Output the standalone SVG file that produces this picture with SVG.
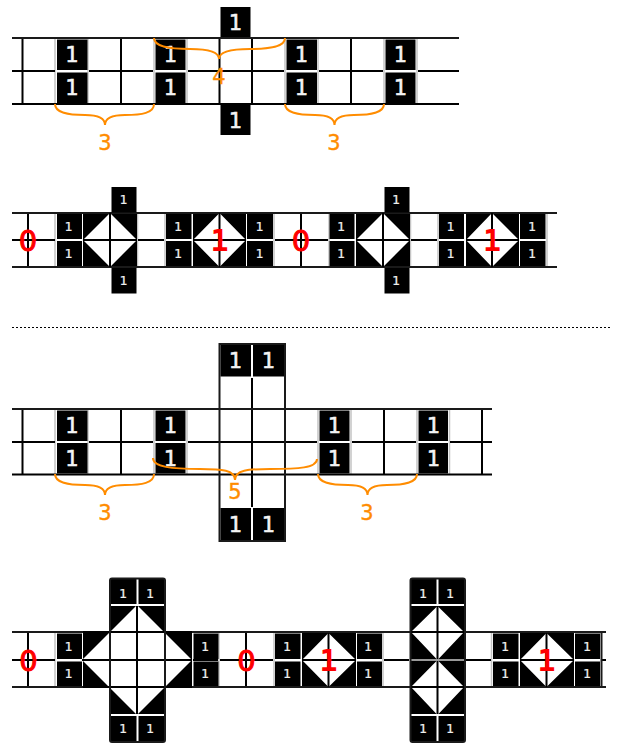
<svg xmlns="http://www.w3.org/2000/svg" width="619" height="744" viewBox="0 0 619 744">
<style>
.bg{fill:#fff}
.k{fill:#000}
.w{fill:#fff}
.l{stroke:#000;stroke-width:2;fill:none}
.t{stroke:#1a1a1a;stroke-width:2;fill:none}
.g{stroke:#c4c4c4;stroke-width:1.500;fill:none}
.wl{stroke:#fff;stroke-width:2;fill:none}
.b{stroke:#ff8c00;stroke-width:2;fill:none}
.a,.c,.r{font-family:"DejaVu Sans Mono",monospace;text-anchor:middle}
.a{font-size:22px;fill:#f4f4f4;stroke:#f4f4f4;stroke-width:.5px}
.c{font-size:13px;fill:#eee;stroke:#eee;stroke-width:.2px}
.r{font-size:30px;font-weight:bold;fill:#f00}
.z{font-family:"DejaVu Sans",sans-serif;font-size:29px;fill:#f00;stroke:#f00;stroke-width:1px;text-anchor:middle}
.o{font-family:"DejaVu Sans",sans-serif;font-size:21px;fill:#ff8c00;stroke:#ff8c00;stroke-width:.4px;text-anchor:middle}
</style>
<rect class="bg" width="619" height="744"/>

<g id="row1-grid">
<path class="g" d="M55 38V104M88 38V104M154 38V104M187 38V104M285 38V104M318 38V104M384 38V104M417 38V104"/>
<path class="l" d="M22.500 38V104M121 38V104M219.500 38V104M252 38V104M351 38V104M12 71H55M89 71H153M188 71H284M319 71H383M418 71H459M12 104H459"/>
<path class="t" d="M12 38H459"/>
</g>
<g id="row1-tiles">
<rect class="k" x="57" y="39.500" width="30.500" height="30.500"/><text class="a" x="71.500" y="62">1</text>
<rect class="k" x="57" y="72.500" width="30.500" height="30.500"/><text class="a" x="71.500" y="95">1</text>
<rect class="k" x="155.500" y="39.500" width="30" height="30.500"/><text class="a" x="170" y="62">1</text>
<rect class="k" x="155.500" y="72.500" width="30" height="30.500"/><text class="a" x="170" y="95">1</text>
<rect class="k" x="286.500" y="39.500" width="30.500" height="30.500"/><text class="a" x="301" y="62">1</text>
<rect class="k" x="286.500" y="72.500" width="30.500" height="30.500"/><text class="a" x="301" y="95">1</text>
<rect class="k" x="385.500" y="39.500" width="30" height="30.500"/><text class="a" x="400" y="62">1</text>
<rect class="k" x="385.500" y="72.500" width="30" height="30.500"/><text class="a" x="400" y="95">1</text>
<rect class="k" x="220.500" y="7" width="30" height="30"/><text class="a" x="235" y="30">1</text>
<rect class="k" x="220.500" y="105" width="30" height="30"/><text class="a" x="235" y="128">1</text>
</g>

<g id="row2-grid">
<path class="g" d="M55 213V267M165 213V267M329 213V267M438 213V267M547 213V267M137.500 213V267M274 213V267M410.500 213V267"/>
<path class="l" d="M28 213V267M301 213V267M12 240H55M138 240H164M275 240H328M411 240H437"/>
<path class="t" d="M12 213H557M12 267H557"/>
</g>
<g id="row2-tiles">
<path class="k" d="M83 214H137V266H83Z M193 214H246V266H193Z M356 214H410V266H356Z M466 214H519V266H466Z"/>
<path class="w" d="M83 240L110 213L137 240L110 267Z M193 240L219.500 213L246 240L219.500 267Z M356 240L383 213L410 240L383 267Z M466 240L492 213L519 240L492 267Z"/>
<path class="l" d="M110 213V267M83 240H137M219.500 213V267M193 240H246M383 213V267M356 240H410M492 213V267M466 240H519"/>
<rect class="k" x="57" y="214" width="25" height="25"/><text class="c" x="68.500" y="231">1</text>
<rect class="k" x="57" y="241" width="25" height="25"/><text class="c" x="68.500" y="258">1</text>
<rect class="k" x="166" y="214" width="25.500" height="25"/><text class="c" x="178" y="231">1</text>
<rect class="k" x="166" y="241" width="25.500" height="25"/><text class="c" x="178" y="258">1</text>
<rect class="k" x="247" y="214" width="26" height="25"/><text class="c" x="259.500" y="231">1</text>
<rect class="k" x="247" y="241" width="26" height="25"/><text class="c" x="259.500" y="258">1</text>
<rect class="k" x="329.500" y="214" width="25" height="25"/><text class="c" x="341" y="231">1</text>
<rect class="k" x="329.500" y="241" width="25" height="25"/><text class="c" x="341" y="258">1</text>
<rect class="k" x="439" y="214" width="25" height="25"/><text class="c" x="450.500" y="231">1</text>
<rect class="k" x="439" y="241" width="25" height="25"/><text class="c" x="450.500" y="258">1</text>
<rect class="k" x="520" y="214" width="25.500" height="25"/><text class="c" x="532" y="231">1</text>
<rect class="k" x="520" y="241" width="25.500" height="25"/><text class="c" x="532" y="258">1</text>
<rect class="k" x="111.500" y="187" width="25" height="25.500"/><text class="c" x="123.500" y="204">1</text>
<rect class="k" x="111.500" y="268" width="25" height="25.500"/><text class="c" x="123.500" y="285">1</text>
<rect class="k" x="384.500" y="187" width="25" height="25.500"/><text class="c" x="396" y="204">1</text>
<rect class="k" x="384.500" y="268" width="25" height="25.500"/><text class="c" x="396" y="285">1</text>
</g>
<g id="row2-values">
<text class="z" x="28" y="251">0</text>
<text class="r" x="219.500" y="251">1</text>
<text class="z" x="301" y="251">0</text>
<text class="r" x="492" y="251">1</text>
</g>

<path id="separator" d="M12 327.500H612" stroke="#000" stroke-width="1" stroke-dasharray="2 2" fill="none"/>

<g id="row3-grid">
<path class="g" d="M55 409V474M88 409V474M154 409V474M187 409V474M318 409V474M351 409V474M417 409V474M449.500 409V474"/>
<path class="l" d="M22.500 409V474M121 409V474M384 409V474M482 409V474M12 442H55M89 442H153M188 442H317M352 442H416M450 442H492M12 474.500H492M252 378V507"/>
<path class="t" d="M12 409H492"/>
<rect class="t" x="219.500" y="344" width="65.500" height="197"/>
</g>
<g id="row3-tiles">
<rect class="k" x="57" y="410.500" width="30.500" height="30.500"/><text class="a" x="71.500" y="433">1</text>
<rect class="k" x="57" y="443" width="30.500" height="30.500"/><text class="a" x="71.500" y="466">1</text>
<rect class="k" x="155.500" y="410.500" width="30" height="30.500"/><text class="a" x="170" y="433">1</text>
<rect class="k" x="155.500" y="443" width="30" height="30.500"/><text class="a" x="170" y="466">1</text>
<rect class="k" x="319.500" y="410.500" width="30" height="30.500"/><text class="a" x="334" y="433">1</text>
<rect class="k" x="319.500" y="443" width="30" height="30.500"/><text class="a" x="334" y="466">1</text>
<rect class="k" x="418.500" y="410.500" width="29.500" height="30.500"/><text class="a" x="433" y="433">1</text>
<rect class="k" x="418.500" y="443" width="29.500" height="30.500"/><text class="a" x="433" y="466">1</text>
<rect class="k" x="220.500" y="345" width="30.500" height="31.500"/><text class="a" x="235" y="368">1</text>
<rect class="k" x="253" y="345" width="31" height="31.500"/><text class="a" x="268" y="368">1</text>
<rect class="k" x="220.500" y="508" width="30.500" height="32"/><text class="a" x="235" y="532">1</text>
<rect class="k" x="253" y="508" width="31" height="32"/><text class="a" x="268" y="532">1</text>
</g>

<g id="row4-grid">
<path class="g" d="M55 632V687M219 632V687M274 632V687M491.500 632V687M383 632V687"/>
<path class="l" d="M28 632V687M246 632V687M12 660H55M193 660H218M220 660H273M384 660H409M466 660H491M602 660H606"/>
<path class="t" d="M12 632H606M12 687H606M601.500 633V687"/>
</g>
<g id="row4-tiles">
<path class="k" d="M83 633H110V579H165V633H192V686H165V741H110V686H83Z"/>
<path class="w" d="M82 660L137 605L192 660L137 715Z"/>
<path class="l" d="M110 632V687M165 632V687M137 606V714M83 632H192M82 660H192M83 687H192"/>
<path class="k" d="M302 633H356V686H302Z M411 579H465V741H411Z M520 633H574V686H520Z"/>
<path class="w" d="M302 660L328.500 633L356 660L328.500 687Z M411 632L437.500 606L464 632L437.500 660Z M411 687L437.500 660L464 687L437.500 715Z M520 660L546.500 633L574 660L546.500 687Z"/>
<path class="l" d="M328.500 633V687M302 660H356M437.500 606V714M411 632H464M411 687H464M546.500 633V687M520 660H574"/>
<path d="M411 660H464" stroke="#999" stroke-width="2" fill="none"/>
<path class="wl" d="M110 605H164M110 715H164M411 605H464M411 715H464M137.500 579V605M137.500 715V741M437.500 579V605M437.500 715V741"/>
<rect class="t" x="110" y="578.500" width="55" height="163.500" rx="2"/>
<rect class="t" x="410.500" y="578.500" width="54.500" height="163.500" rx="2"/>
<rect class="k" x="57" y="633.500" width="25" height="25.500"/><text class="c" x="68.500" y="651">1</text>
<rect class="k" x="57" y="661.500" width="25" height="24.500"/><text class="c" x="68.500" y="678">1</text>
<rect class="k" x="193.500" y="633.500" width="25" height="25.500"/><text class="c" x="205" y="651">1</text>
<rect class="k" x="193.500" y="661.500" width="25" height="24.500"/><text class="c" x="205" y="678">1</text>
<rect class="k" x="275" y="633.500" width="25.500" height="25.500"/><text class="c" x="287" y="651">1</text>
<rect class="k" x="275" y="661.500" width="25.500" height="24.500"/><text class="c" x="287" y="678">1</text>
<rect class="k" x="357" y="633.500" width="25" height="25.500"/><text class="c" x="368" y="651">1</text>
<rect class="k" x="357" y="661.500" width="25" height="24.500"/><text class="c" x="368" y="678">1</text>
<rect class="k" x="493" y="633.500" width="25.500" height="25.500"/><text class="c" x="505" y="651">1</text>
<rect class="k" x="493" y="661.500" width="25.500" height="24.500"/><text class="c" x="505" y="678">1</text>
<rect class="k" x="575" y="633.500" width="25" height="25.500"/><text class="c" x="587" y="651">1</text>
<rect class="k" x="575" y="661.500" width="25" height="24.500"/><text class="c" x="587" y="678">1</text>
<text class="c" x="123" y="598">1</text>
<text class="c" x="150" y="598">1</text>
<text class="c" x="123" y="733">1</text>
<text class="c" x="150" y="733">1</text>
<text class="c" x="423" y="598">1</text>
<text class="c" x="450" y="598">1</text>
<text class="c" x="423" y="733">1</text>
<text class="c" x="450" y="733">1</text>
</g>
<g id="row4-values">
<text class="z" x="28.500" y="671">0</text>
<text class="z" x="246.500" y="671">0</text>
<text class="r" x="328.500" y="671">1</text>
<text class="r" x="546.500" y="671">1</text>
</g>

<g id="connectors">
<path class="b" d="M154 38C154 47 170 49 190 49C206 49 219 51 219 59C219 51 233 49 250 49C270 49 285 47 285 38"/>
<path class="b" d="M55 104C55 113 68 115 85 115C96 115 105 117 105 125C105 117 114 115 125 115C142 115 154 113 154 104"/>
<path class="b" d="M285 104C285 113 298 115 315 115C326 115 334.500 117 334.500 125C334.500 117 343 115 354 115C371 115 384 113 384 104"/>
<path class="b" d="M55 474C55 483 68 485 85 485C96 485 105 487 105 495C105 487 114 485 125 485C142 485 154 483 154 474"/>
<path class="b" d="M318 474C318 483 331 485 348 485C359 485 367.500 487 367.500 495C367.500 487 376 485 387 485C404 485 417 483 417 474"/>
<path class="b" d="M153 458C153 467 172 469 200 469C222 469 235 470 235 480C235 470 248 469 270 469C298 469 317 468 317 459"/>
</g>
<g id="labels">
<text class="o" x="105" y="150">3</text>
<text class="o" x="219" y="84">4</text>
<text class="o" x="334" y="150">3</text>
<text class="o" x="105" y="520">3</text>
<text class="o" x="235" y="499">5</text>
<text class="o" x="367" y="520">3</text>
</g>
</svg>
